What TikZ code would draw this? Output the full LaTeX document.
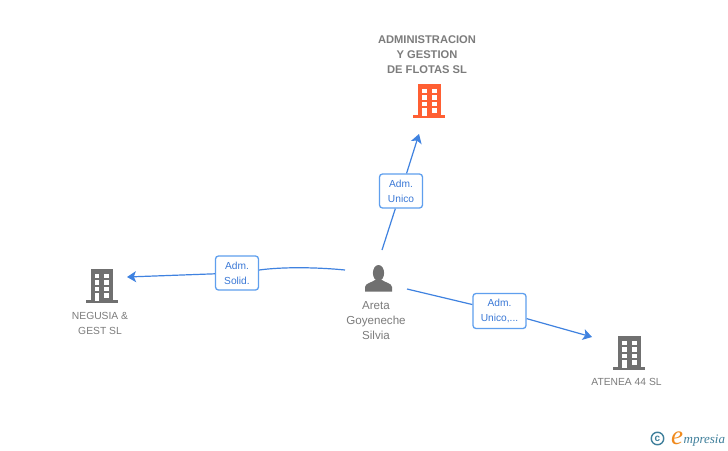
\documentclass[tikz,border=0pt]{standalone}
\usepackage{fontspec}
\setmainfont{Liberation Sans}
\newfontfamily\logofont{Liberation Serif}
\usetikzlibrary{arrows.meta}
\definecolor{linkblue}{HTML}{3F82E0}
\definecolor{boxblue}{HTML}{5F9FEE}
\definecolor{labelblue}{HTML}{3A78D6}
\definecolor{txtgrey}{HTML}{7C7C7C}
\definecolor{icongrey}{HTML}{707070}
\definecolor{iconorange}{HTML}{FF5F33}
\definecolor{logoteal}{HTML}{3F7F9B}
\definecolor{logoorange}{HTML}{F08A1D}
\newcommand{\buildingicon}[3]{%
  \begin{scope}[shift={(#1,#2)}]
    \fill[#3] (-11,0) rectangle (11.5,31);
    \fill[#3] (-16,31) rectangle (16,34);
    \foreach \wy in {4.5,11,17.5}{
      \fill[white] (-7.2,\wy) rectangle (-2.4,\wy+4.6);
      \fill[white] (2.7,\wy) rectangle (7.6,\wy+4.6);
    }
    \fill[white] (-7.2,24) rectangle (-2.4,32);
    \fill[white] (2.7,24) rectangle (7.6,28.6);
  \end{scope}}
\tikzset{
  company/.style={text=txtgrey,align=center,font=\fontsize{10.3}{15}\selectfont,inner sep=0pt},
  personname/.style={text=txtgrey,align=center,font=\fontsize{11.6}{15}\selectfont,inner sep=0pt},
  companymain/.style={text=txtgrey,align=center,font=\bfseries\fontsize{11.15}{15}\selectfont,inner sep=0pt},
  rolebox/.style={draw=boxblue,line width=1.3pt,fill=white,rounded corners=3pt,text=labelblue,align=center,
    font=\fontsize{10.2}{15}\selectfont,inner sep=0pt},
  link/.style={draw=linkblue,line width=1.2pt},
  arrowlink/.style={link,-{Stealth[inset=2.2pt,length=9pt,width=11pt]}},
}
\begin{document}
\begin{tikzpicture}[x=1pt,y=-1pt]
\useasboundingbox[fill=white] (0,0) rectangle (728,450);
% icons
\buildingicon{429}{84}{iconorange}
\buildingicon{101.7}{269}{icongrey}
\buildingicon{629.3}{336}{icongrey}
\fill[icongrey] (378.5,273) ellipse (5.6 and 8);
\fill[icongrey] (365,291.7) -- (365,287) .. controls (365.5,283) and (372,282.5) .. (375,280)
  -- (382,280) .. controls (385,282.5) and (391.5,283) .. (392,287) -- (392,291.7) -- cycle;
% texts
\node[companymain] (admin) at (427,55) {ADMINISTRACION\\Y GESTION\\DE FLOTAS SL};
\node[company] (negusia) at (100,323) {NEGUSIA \&\\GEST SL};
\node[company] (atenea) at (626.5,382) {ATENEA 44 SL};
\node[personname] (areta) at (376,321) {Areta\\Goyeneche\\Silvia};
% connector ends
\coordinate (topstart) at (382,250);
\coordinate (topend) at (419,134);
\coordinate (leftstart) at (345,270);
\coordinate (leftend) at (127,277);
\coordinate (rightstart) at (407,289);
\coordinate (rightend) at (592,337);
% role boxes
\node[rolebox,minimum width=43pt,minimum height=34pt] (roletop) at (401,191) {Adm.\\Unico};
\node[rolebox,minimum width=43pt,minimum height=34pt] (roleleft) at (237,273) {Adm.\\Solid.};
\node[rolebox,minimum width=53pt,minimum height=35pt] (roleright) at (499.5,311) {Adm.\\Unico,...};
% connectors
\draw[link] (topstart) -- (roletop);
\draw[arrowlink] (roletop) -- (topend);
\draw[link] (leftstart) .. controls (320,267.5) and (285,266.5) .. (roleleft);
\draw[arrowlink] (roleleft) -- (leftend);
\draw[link] (rightstart) -- (roleright);
\draw[arrowlink] (roleright) -- (rightend);
% logo
\node[draw=logoteal,line width=1.4pt,circle,minimum size=12.5pt,inner sep=0pt,text=logoteal,font=\bfseries\fontsize{10}{10}\selectfont] (copy) at (657.5,438.5) {c};
\node[inner sep=0pt,anchor=base west,text=logoorange,font=\logofont\itshape\fontsize{27}{27}\selectfont] (logoe) at (671,444.5) {e};
\node[inner sep=0pt,anchor=base west,text=logoteal,font=\logofont\itshape\fontsize{13}{13}\selectfont] (logotext) at (683.5,443) {mpresia};
\end{tikzpicture}
\end{document}
